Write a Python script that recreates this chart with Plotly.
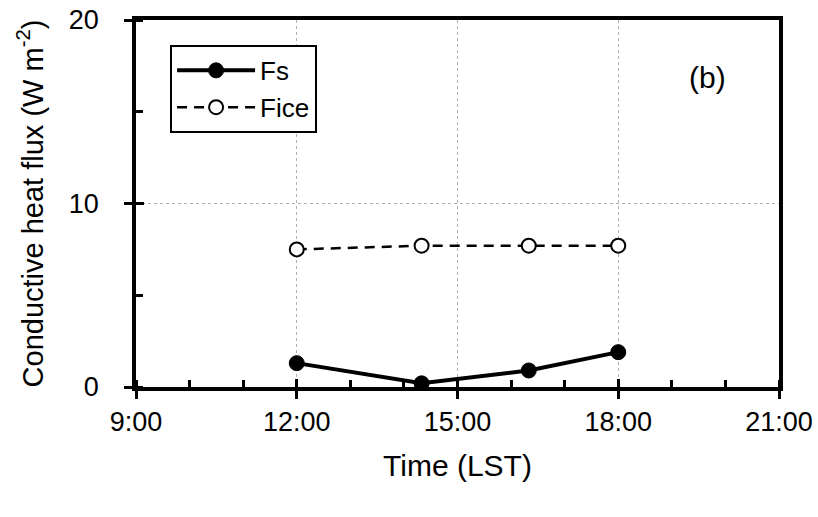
import plotly.graph_objects as go

# Data (time in decimal hours LST)
time_fs = [12.0, 14.33, 16.33, 18.0]
fs_vals = [1.3, 0.2, 0.9, 1.9]
time_fice = [12.0, 14.33, 16.33, 18.0]
fice_vals = [7.5, 7.7, 7.7, 7.7]
x_tickvals = [9, 12, 15, 18, 21]
x_ticktext = ["9:00", "12:00", "15:00", "18:00", "21:00"]
y_tickvals = [0, 10, 20]

FONT = "Liberation Sans, Arial, sans-serif"

fig = go.Figure()
fig.add_trace(go.Scatter(
    x=time_fs, y=fs_vals, name="Fs", mode="lines+markers",
    line=dict(color="black", width=4),
    marker=dict(symbol="circle", size=15, color="black", line=dict(color="black", width=1)),
))
fig.add_trace(go.Scatter(
    x=time_fice, y=fice_vals, name="Fice", mode="lines+markers",
    line=dict(color="black", width=2.5, dash="10px,7px"),
    marker=dict(symbol="circle", size=14, color="white", line=dict(color="black", width=2)),
))
# invisible trace on overlay axes to show inside major ticks
fig.add_trace(go.Scatter(x=[9, 21], y=[0, 20], xaxis="x2", yaxis="y2",
                         mode="markers", marker=dict(opacity=0), showlegend=False, hoverinfo="skip"))

fig.update_layout(
    width=818, height=517,
    margin=dict(l=136, r=39, t=20, b=130, autoexpand=False),
    paper_bgcolor="white", plot_bgcolor="white",
    font=dict(family=FONT, color="black"),
    showlegend=True,
    legend=dict(x=0.053, y=0.932, xanchor="left", yanchor="top",
                bordercolor="black", borderwidth=2, bgcolor="white",
                font=dict(size=26, family=FONT), itemwidth=78,
                tracegroupgap=0),
    xaxis=dict(
        range=[9, 21], tickmode="array", tickvals=x_tickvals, ticktext=x_ticktext,
        ticks="outside", ticklen=8, tickwidth=3, tickcolor="black",
        showline=True, linecolor="black", linewidth=3.5, mirror=True,
        showgrid=True, gridcolor="#b0b0b0", griddash="dot", gridwidth=1,
        tickfont=dict(size=27, family=FONT), zeroline=False, automargin=False,
        minor=dict(ticks="inside", dtick=1, tick0=9, ticklen=7, tickwidth=2.5, tickcolor="black", showgrid=False),
        title=dict(text="Time (LST)", font=dict(size=30, family=FONT), standoff=20),
    ),
    yaxis=dict(
        range=[0, 20], tickmode="array", tickvals=y_tickvals,
        ticks="outside", ticklen=8, tickwidth=3, tickcolor="black",
        showline=True, linecolor="black", linewidth=3.5, mirror=True,
        showgrid=True, gridcolor="#b0b0b0", griddash="dot", gridwidth=1,
        tickfont=dict(size=27, family=FONT), zeroline=False, automargin=False,
        ticklabelstandoff=20,
        minor=dict(ticks="inside", dtick=5, tick0=0, ticklen=7, tickwidth=2.5, tickcolor="black", showgrid=False),
    ),
    xaxis2=dict(overlaying="x", range=[9, 21], tickvals=x_tickvals, ticks="inside", ticklen=8,
                tickwidth=3, tickcolor="black", showticklabels=False, showgrid=False,
                zeroline=False, showline=False, side="bottom", automargin=False),
    yaxis2=dict(overlaying="y", range=[0, 20], tickvals=y_tickvals, ticks="inside", ticklen=8,
                tickwidth=3, tickcolor="black", showticklabels=False, showgrid=False,
                zeroline=False, showline=False, side="left", automargin=False),
    annotations=[
        dict(text="(b)", xref="paper", yref="paper", x=0.889, y=0.842,
             xanchor="center", yanchor="middle", showarrow=False,
             font=dict(size=30, family=FONT)),
        dict(text="Conductive heat flux (W m<sup>-2</sup>)", xref="paper", yref="paper",
             x=-0.165, y=0.5, xanchor="center", yanchor="middle", textangle=-90,
             showarrow=False, font=dict(size=29, family=FONT)),
    ],
)

fig.write_html("out.html")
